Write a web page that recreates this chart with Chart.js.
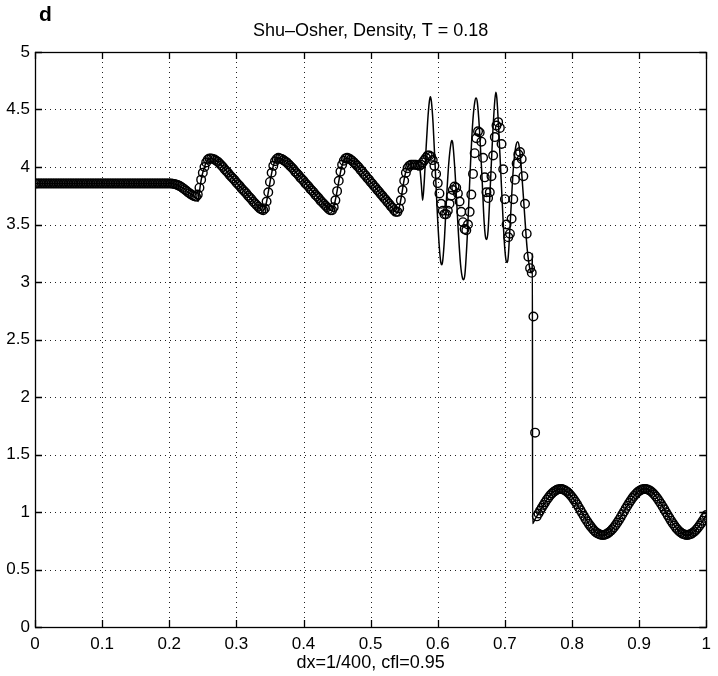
<!DOCTYPE html>
<html>
<head>
<meta charset="utf-8">
<title>Shu-Osher density</title>
<script src="https://cdn.jsdelivr.net/npm/chart.js@4.4.1/dist/chart.umd.min.js"></script>
<style>
  html, body { margin: 0; padding: 0; background: #fff; }
  canvas { display: block; }
</style>
</head>
<body>
<canvas id="chart" width="718" height="676"></canvas>
<script>
"use strict";

const panelLabel = "d";
const chartTitle = "Shu\u2013Osher, Density, T = 0.18";
const xAxisTitle = "dx=1/400, cfl=0.95";

const xTicks = [0, 0.1, 0.2, 0.3, 0.4, 0.5, 0.6, 0.7, 0.8, 0.9, 1];
const xTickLabels = ["0", "0.1", "0.2", "0.3", "0.4", "0.5", "0.6", "0.7", "0.8", "0.9", "1"];
const yTicks = [0, 0.5, 1, 1.5, 2, 2.5, 3, 3.5, 4, 4.5, 5];
const yTickLabels = ["0", "0.5", "1", "1.5", "2", "2.5", "3", "3.5", "4", "4.5", "5"];

// circles: computed solution, one value per grid point (dx = 1/400, x = 0 .. 1)
const dx = 1 / 400;
const circleRho = [
    3.857, 3.857, 3.857, 3.857, 3.857, 3.857, 3.857, 3.857, 3.857, 3.857,
    3.857, 3.857, 3.857, 3.857, 3.857, 3.857, 3.857, 3.857, 3.857, 3.857,
    3.857, 3.857, 3.857, 3.857, 3.857, 3.857, 3.857, 3.857, 3.857, 3.857,
    3.857, 3.857, 3.857, 3.857, 3.857, 3.857, 3.857, 3.857, 3.857, 3.857,
    3.857, 3.857, 3.857, 3.857, 3.857, 3.857, 3.857, 3.857, 3.857, 3.857,
    3.857, 3.857, 3.857, 3.857, 3.857, 3.857, 3.857, 3.857, 3.857, 3.857,
    3.857, 3.857, 3.857, 3.857, 3.857, 3.857, 3.857, 3.857, 3.857, 3.857,
    3.857, 3.857, 3.857, 3.857, 3.857, 3.857, 3.857, 3.857, 3.857, 3.857,
    3.857,
    3.856, 3.855, 3.852, 3.848, 3.843, 3.836, 3.828, 3.818, 3.807, 3.795,
    3.783, 3.772, 3.762, 3.753, 3.746, 3.742,
    3.76, 3.82, 3.89, 3.95, 4.00, 4.04, 4.065, 4.075, 4.075, 4.07,
    4.065, 4.055, 4.045, 4.03, 4.015, 4.00, 3.98, 3.965, 3.95, 3.93,
    3.915, 3.90, 3.885, 3.865, 3.85, 3.835, 3.815, 3.80, 3.785, 3.77,
    3.75, 3.735, 3.72, 3.70, 3.685, 3.67, 3.655, 3.64, 3.63, 3.625,
    3.64, 3.70, 3.78, 3.87, 3.95, 4.01, 4.05, 4.07, 4.08, 4.075,
    4.07, 4.06, 4.05, 4.04, 4.025, 4.01, 3.995, 3.98, 3.96, 3.945,
    3.93, 3.91, 3.895, 3.88, 3.86, 3.845, 3.83, 3.81, 3.795, 3.78,
    3.76, 3.745, 3.73, 3.71, 3.695, 3.68, 3.665, 3.65, 3.635, 3.625,
    3.625, 3.65, 3.71, 3.79, 3.88, 3.96, 4.02, 4.055, 4.075, 4.08,
    4.075, 4.065, 4.055, 4.04, 4.025, 4.01, 3.995, 3.975, 3.96, 3.94,
    3.925, 3.905, 3.89, 3.87, 3.855, 3.835, 3.82, 3.80, 3.785, 3.765,
    3.75, 3.73, 3.715, 3.695, 3.68, 3.66, 3.645, 3.625, 3.61, 3.61,
    3.64, 3.71, 3.80, 3.88, 3.95, 3.99, 4.01, 4.02, 4.02, 4.02,
    4.02, 4.015, 4.01, 4.02, 4.04, 4.06, 4.08, 4.10, 4.10, 4.09,
    4.06, 4.01, 3.94, 3.86, 3.77, 3.68, 3.62, 3.59, 3.59, 3.62,
    3.68, 3.75, 3.80, 3.83, 3.82, 3.77, 3.70, 3.61, 3.52, 3.46,
    3.45, 3.50, 3.61, 3.76, 3.94, 4.12, 4.25, 4.31, 4.30, 4.22,
    4.08, 3.91, 3.78, 3.73, 3.78, 3.92, 4.10, 4.26, 4.36, 4.39,
    4.34, 4.20, 3.98, 3.72, 3.50, 3.39, 3.42, 3.55, 3.72, 3.89,
    4.03, 4.11, 4.13, 4.07, 3.92, 3.68, 3.42, 3.22, 3.12, 3.08,
    2.70, 1.69,
    0.962, 0.987, 1.012, 1.037, 1.061, 1.084, 1.106, 1.126, 1.145, 1.161,
    1.174, 1.185, 1.193, 1.198, 1.200, 1.199, 1.194, 1.187, 1.177, 1.164,
    1.148, 1.130, 1.110, 1.089, 1.066, 1.041, 1.016, 0.992, 0.967, 0.942,
    0.919, 0.897, 0.877, 0.858, 0.841, 0.827, 0.816, 0.808, 0.802, 0.800,
    0.801, 0.805, 0.812, 0.822, 0.835, 0.850, 0.867, 0.887, 0.908, 0.931,
    0.955, 0.980, 1.005, 1.030, 1.054, 1.078, 1.100, 1.121, 1.140, 1.157,
    1.171, 1.183, 1.191, 1.197, 1.200, 1.199, 1.196, 1.189, 1.180, 1.167,
    1.152, 1.135, 1.115, 1.094, 1.071, 1.048, 1.023, 0.998, 0.973, 0.949,
    0.925, 0.903, 0.882, 0.862, 0.845, 0.831, 0.819, 0.810, 0.804, 0.800,
    0.800, 0.804, 0.810, 0.819, 0.831, 0.846, 0.863, 0.882, 0.903, 0.925,
    0.949, 0.974
];

// solid line: reference solution
const lineX = [
    0, 0.1, 0.2, 0.205, 0.21, 0.215, 0.22, 0.225, 0.23, 0.235,
    0.239, 0.2415, 0.243, 0.2445, 0.2465, 0.249, 0.2525, 0.255, 0.2575, 0.2612,
    0.265, 0.27, 0.275, 0.28, 0.29, 0.30, 0.31, 0.32, 0.33, 0.335,
    0.3385, 0.341, 0.3435, 0.346, 0.349, 0.352, 0.355, 0.358, 0.3625, 0.367,
    0.372, 0.377, 0.38, 0.39, 0.40, 0.41, 0.42, 0.43, 0.435, 0.4395,
    0.442, 0.4445, 0.447, 0.45, 0.453, 0.456, 0.459, 0.4645, 0.47, 0.475,
    0.48, 0.49, 0.50, 0.51, 0.52, 0.53, 0.535, 0.5385, 0.541, 0.5435,
    0.546, 0.549, 0.552, 0.555, 0.56, 0.566, 0.571, 0.5735, 0.5755, 0.5775,
    0.5795, 0.582, 0.585, 0.5875, 0.589, 0.5905, 0.593, 0.596, 0.599, 0.602,
    0.6045, 0.606, 0.6075, 0.61, 0.613, 0.6165, 0.6195, 0.621, 0.6225, 0.626,
    0.63, 0.634, 0.637, 0.6385, 0.6405, 0.644, 0.648, 0.652, 0.655, 0.657,
    0.659, 0.662, 0.666, 0.669, 0.6715, 0.673, 0.675, 0.678, 0.682, 0.685,
    0.6865, 0.688, 0.691, 0.695, 0.699, 0.702, 0.7035, 0.705, 0.708, 0.7125,
    0.716, 0.719, 0.7215, 0.725, 0.729, 0.733, 0.737, 0.7395, 0.7405, 0.741,
    0.7412, 0.745, 0.75, 0.755, 0.76, 0.765, 0.77, 0.775, 0.78, 0.785,
    0.79, 0.795, 0.80, 0.805, 0.81, 0.815, 0.82, 0.825, 0.83, 0.835,
    0.84, 0.845, 0.85, 0.855, 0.86, 0.865, 0.87, 0.875, 0.88, 0.885,
    0.89, 0.895, 0.90, 0.905, 0.91, 0.915, 0.92, 0.925, 0.93, 0.935,
    0.94, 0.945, 0.95, 0.955, 0.96, 0.965, 0.97, 0.975, 0.98, 0.985,
    0.99, 0.995, 1.0
];
const lineRho = [
    3.857, 3.857, 3.857, 3.855, 3.848, 3.836, 3.818, 3.795, 3.772, 3.753,
    3.738, 3.72, 3.70, 3.76, 3.85, 3.93, 4.00, 4.04, 4.065, 4.078,
    4.07, 4.055, 4.03, 4.00, 3.93, 3.865, 3.80, 3.735, 3.67, 3.64,
    3.625, 3.63, 3.66, 3.73, 3.83, 3.93, 4.01, 4.055, 4.08, 4.07,
    4.05, 4.03, 4.01, 3.945, 3.88, 3.81, 3.745, 3.68, 3.65, 3.625,
    3.625, 3.645, 3.70, 3.79, 3.89, 3.98, 4.04, 4.08, 4.065, 4.04,
    4.01, 3.94, 3.87, 3.80, 3.73, 3.66, 3.625, 3.605, 3.62, 3.67,
    3.75, 3.86, 3.95, 4.00, 4.03, 4.035, 4.025, 3.98, 3.85, 3.71,
    3.84, 4.10, 4.40, 4.57, 4.61, 4.57, 4.38, 4.02, 3.64, 3.33,
    3.17, 3.15, 3.19, 3.38, 3.72, 4.04, 4.20, 4.23, 4.20, 3.93,
    3.50, 3.15, 3.03, 3.02, 3.07, 3.40, 3.93, 4.38, 4.56, 4.60,
    4.56, 4.34, 3.90, 3.53, 3.38, 3.37, 3.45, 3.80, 4.30, 4.58,
    4.65, 4.60, 4.30, 3.82, 3.36, 3.18, 3.17, 3.22, 3.52, 3.98,
    4.17, 4.22, 4.17, 3.95, 3.62, 3.30, 3.12, 3.08, 3.10, 3.25,
    0.90, 0.938, 0.987, 1.037, 1.084, 1.126, 1.161, 1.185, 1.198, 1.199,
    1.187, 1.164, 1.130, 1.089, 1.041, 0.992, 0.942, 0.897, 0.858, 0.827,
    0.808, 0.800, 0.805, 0.822, 0.850, 0.887, 0.931, 0.980, 1.030, 1.078,
    1.121, 1.157, 1.183, 1.197, 1.199, 1.189, 1.167, 1.135, 1.094, 1.048,
    0.998, 0.949, 0.903, 0.862, 0.831, 0.810, 0.800, 0.804, 0.819, 0.846,
    0.882, 0.925, 0.974
];

const FONT = '"Liberation Sans", Arial, Helvetica, sans-serif';

// dotted grid, inward ticks on all four sides and the box, like a matlab axes
const axesPlugin = {
    id: 'matlabAxes',
    beforeDatasetsDraw(chart) {
        const { ctx, chartArea: a, scales } = chart;
        ctx.save();
        ctx.strokeStyle = '#222';
        ctx.lineWidth = 1;
        ctx.setLineDash([1, 4]);
        xTicks.forEach(v => {
            if (v <= 0 || v >= 1) return;
            const px = Math.round(scales.x.getPixelForValue(v)) + 0.5;
            ctx.beginPath();
            ctx.moveTo(px, a.top);
            ctx.lineTo(px, a.bottom);
            ctx.stroke();
        });
        yTicks.forEach(v => {
            if (v <= 0 || v >= 5) return;
            const py = Math.round(scales.y.getPixelForValue(v)) + 0.5;
            ctx.beginPath();
            ctx.moveTo(a.left, py);
            ctx.lineTo(a.right, py);
            ctx.stroke();
        });
        ctx.restore();
    },
    afterDatasetsDraw(chart) {
        const { ctx, chartArea: a, scales } = chart;
        const len = 7;
        ctx.save();
        ctx.strokeStyle = '#000';
        ctx.lineWidth = 1.3;
        ctx.beginPath();
        xTicks.forEach(v => {
            const px = Math.round(scales.x.getPixelForValue(v)) + 0.5;
            ctx.moveTo(px, a.bottom);
            ctx.lineTo(px, a.bottom - len);
            ctx.moveTo(px, a.top);
            ctx.lineTo(px, a.top + len);
        });
        yTicks.forEach(v => {
            const py = Math.round(scales.y.getPixelForValue(v)) + 0.5;
            ctx.moveTo(a.left, py);
            ctx.lineTo(a.left + len, py);
            ctx.moveTo(a.right, py);
            ctx.lineTo(a.right - len, py);
        });
        ctx.stroke();
        ctx.strokeRect(Math.round(a.left) + 0.5, Math.round(a.top) + 0.5,
            Math.round(a.right - a.left), Math.round(a.bottom - a.top));
        ctx.restore();
    },
    afterDraw(chart) {
        const { ctx, chartArea: a } = chart;
        ctx.save();
        ctx.fillStyle = '#000';
        ctx.font = '18px ' + FONT;
        ctx.textAlign = 'center';
        ctx.textBaseline = 'middle';
        ctx.fillText(chartTitle, (a.left + a.right) / 2, 31);
        ctx.font = 'bold 21px ' + FONT;
        ctx.textAlign = 'left';
        ctx.textBaseline = 'alphabetic';
        ctx.fillText(panelLabel, 39, 21);
        ctx.restore();
    }
};

const ctx = document.getElementById('chart').getContext('2d');
const chart = new Chart(ctx, {
    type: 'scatter',
    data: {
        datasets: [
            {
                label: 'reference',
                data: lineX.map((x, i) => ({ x: x, y: lineRho[i] })),
                showLine: true,
                borderColor: '#000',
                borderWidth: 1.5,
                pointRadius: 0,
                cubicInterpolationMode: 'monotone',
                order: 2
            },
            {
                label: 'dx=1/400',
                data: circleRho.map((y, i) => ({ x: i * dx, y: y })),
                showLine: false,
                pointStyle: 'circle',
                pointRadius: 4.3,
                pointBorderWidth: 1.4,
                pointBorderColor: '#000',
                pointBackgroundColor: 'rgba(0,0,0,0)',
                order: 1
            }
        ]
    },
    options: {
        responsive: false,
        animation: false,
        devicePixelRatio: 1,
        layout: { padding: { top: 52, right: 4, left: 0, bottom: 0 } },
        plugins: {
            legend: { display: false },
            tooltip: { enabled: false },
            title: { display: false }
        },
        scales: {
            x: {
                type: 'linear',
                min: 0,
                max: 1,
                grid: { display: false, drawTicks: false },
                border: { display: false },
                afterBuildTicks: scale => { scale.ticks = xTicks.map(v => ({ value: v })); },
                afterFit: scale => { scale.height = 49; },
                ticks: {
                    color: '#000',
                    padding: 7,
                    maxRotation: 0,
                    autoSkip: false,
                    font: { family: FONT, size: 17 },
                    callback: (v, i) => xTickLabels[i]
                },
                title: {
                    display: true,
                    text: xAxisTitle,
                    color: '#000',
                    font: { family: FONT, size: 18 },
                    padding: { top: 0, bottom: 2 }
                }
            },
            y: {
                type: 'linear',
                min: 0,
                max: 5,
                grid: { display: false, drawTicks: false },
                border: { display: false },
                afterBuildTicks: scale => { scale.ticks = yTicks.map(v => ({ value: v })); },
                afterFit: scale => { scale.width = 35; },
                ticks: {
                    color: '#000',
                    padding: 5,
                    autoSkip: false,
                    font: { family: FONT, size: 17 },
                    callback: (v, i) => yTickLabels[i]
                }
            }
        }
    },
    plugins: [axesPlugin]
});
</script>
</body>
</html>
